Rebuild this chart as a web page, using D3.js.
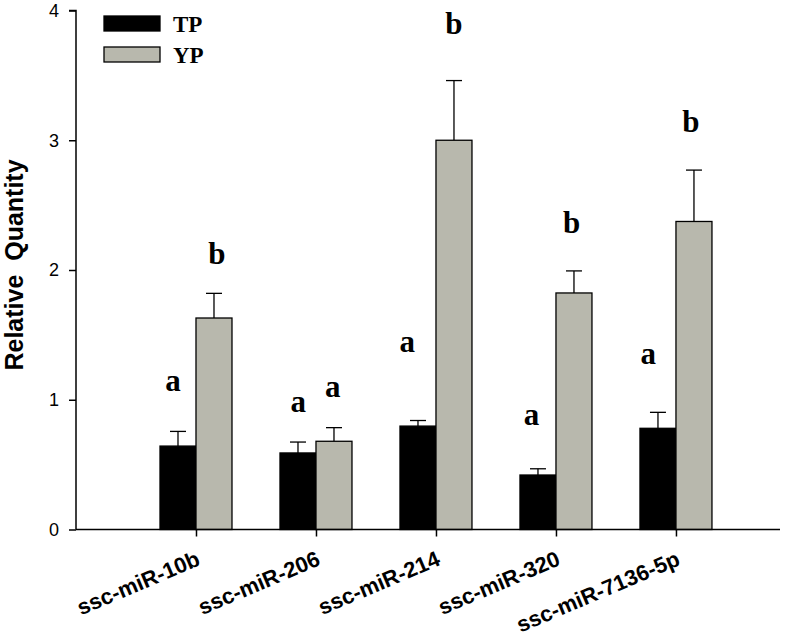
<!DOCTYPE html>
<html>
<head>
<meta charset="utf-8">
<script src="https://cdn.jsdelivr.net/npm/d3@7"></script>
<style>
  html, body { margin: 0; padding: 0; background: #fff; }
  svg { display: block; }
</style>
</head>
<body>
<svg id="chart" width="800" height="642"></svg>
<script>
// ---- data ----
const categories = ["ssc-miR-10b", "ssc-miR-206", "ssc-miR-214", "ssc-miR-320", "ssc-miR-7136-5p"];
const seriesNames = ["TP", "YP"];
const tpValues = [0.643, 0.59, 0.797, 0.42, 0.78];
const tpErrors = [0.113, 0.084, 0.043, 0.048, 0.123];
const ypValues = [1.63, 0.68, 3.0, 1.823, 2.374];
const ypErrors = [0.19, 0.105, 0.46, 0.17, 0.396];
const tpLetters = ["a", "a", "a", "a", "a"];
const ypLetters = ["b", "a", "b", "b", "b"];
// letter anchor positions in data units [x (category units), y (quantity)]
const tpLetterPos = [[0.808, 1.065], [1.853, 0.905], [2.761, 1.368], [3.797, 0.802], [4.769, 1.279]];
const ypLetterPos = [[1.173, 2.05], [2.139, 1.018], [3.15, 3.817], [4.131, 2.286], [5.125, 3.066]];
const yTicks = [0, 1, 2, 3, 4];
const yTitle = "Relative  Quantity";

// ---- layout ----
const svg = d3.select("#chart");
const x0 = 76, x1 = 780, yBottom = 529.5, yTop = 10.5;
const x = d3.scaleLinear().domain([0, 5.867]).range([x0, x1]);
const y = d3.scaleLinear().domain([0, 4]).range([yBottom, yTop]);
const barW = x(0.3) - x(0);
const colors = { TP: "#000000", YP: "#b8b8ad" };

const sans = "'Liberation Sans', Arial, sans-serif";
const serif = "'Liberation Serif', 'Times New Roman', serif";

const data = categories.map((c, i) => ({
  cat: c, i: i + 1,
  TP: tpValues[i], TPe: tpErrors[i],
  YP: ypValues[i], YPe: ypErrors[i]
}));

// error bars
const g = svg.append("g");
data.forEach(d => {
  [["TP", -1], ["YP", 0]].forEach(([s, off]) => {
    const cx = x(d.i) + off * barW + barW / 2;
    const v = d[s], e = d[s + "e"];
    g.append("line").attr("x1", cx).attr("x2", cx)
      .attr("y1", y(v)).attr("y2", y(v + e))
      .attr("stroke", "#000").attr("stroke-width", 1.3);
    g.append("line").attr("x1", cx - 8).attr("x2", cx + 8)
      .attr("y1", y(v + e)).attr("y2", y(v + e))
      .attr("stroke", "#000").attr("stroke-width", 1.3);
  });
});

// bars
data.forEach(d => {
  g.append("rect")
    .attr("x", x(d.i) - barW).attr("y", y(d.TP))
    .attr("width", barW).attr("height", y(0) - y(d.TP))
    .attr("fill", colors.TP).attr("stroke", "#000").attr("stroke-width", 1.3);
  g.append("rect")
    .attr("x", x(d.i)).attr("y", y(d.YP))
    .attr("width", barW).attr("height", y(0) - y(d.YP))
    .attr("fill", colors.YP).attr("stroke", "#000").attr("stroke-width", 1.3);
});

// letters
const letters = svg.append("g")
  .attr("font-family", serif).attr("font-weight", "bold")
  .attr("font-size", 31).attr("text-anchor", "middle").attr("fill", "#000");
tpLetters.forEach((t, i) => {
  letters.append("text").attr("x", x(tpLetterPos[i][0])).attr("y", y(tpLetterPos[i][1])).text(t);
});
ypLetters.forEach((t, i) => {
  letters.append("text").attr("x", x(ypLetterPos[i][0])).attr("y", y(ypLetterPos[i][1])).text(t);
});

// y axis
const yAxis = d3.axisLeft(y).tickValues(yTicks).tickSize(7).tickPadding(10).tickFormat(d3.format("d"));
const ya = svg.append("g").attr("transform", `translate(${x0},0)`).call(yAxis);
ya.select(".domain").attr("d", `M-7,${yTop}H0V${yBottom}`).attr("stroke-width", 1.5);
ya.selectAll(".tick line").attr("stroke-width", 1.5);
ya.selectAll(".tick text").attr("font-family", sans).attr("font-size", 18).attr("fill", "#000");

// x axis
const xAxis = d3.axisBottom(x).tickValues(data.map(d => d.i)).tickSize(7).tickFormat((d, i) => categories[i]);
const xa = svg.append("g").attr("transform", `translate(0,${yBottom})`).call(xAxis);
xa.select(".domain").attr("d", `M${x0},0H${x1}`).attr("stroke-width", 1.5);
xa.selectAll(".tick line").attr("stroke-width", 1.5);
xa.selectAll(".tick text")
  .attr("font-family", sans).attr("font-weight", "bold").attr("font-size", 22).attr("fill", "#000")
  .attr("text-anchor", "end").attr("dy", null).attr("y", 0)
  .attr("transform", "translate(5,35) rotate(-23)");

// y title
svg.append("text")
  .attr("transform", `translate(23,${265}) rotate(-90)`)
  .attr("text-anchor", "middle")
  .attr("font-family", sans).attr("font-weight", "bold").attr("font-size", 25)
  .attr("xml:space", "preserve").style("white-space", "pre")
  .text(yTitle);

// legend
const leg = svg.append("g");
seriesNames.forEach((s, i) => {
  leg.append("rect").attr("x", 104).attr("y", 16 + i * 31).attr("width", 56).attr("height", 15)
    .attr("fill", colors[s]).attr("stroke", "#000").attr("stroke-width", 1.3);
  leg.append("text").attr("x", 173).attr("y", 32 + i * 31)
    .attr("font-family", serif).attr("font-weight", "bold").attr("font-size", 23).text(s);
});
</script>
</body>
</html>
